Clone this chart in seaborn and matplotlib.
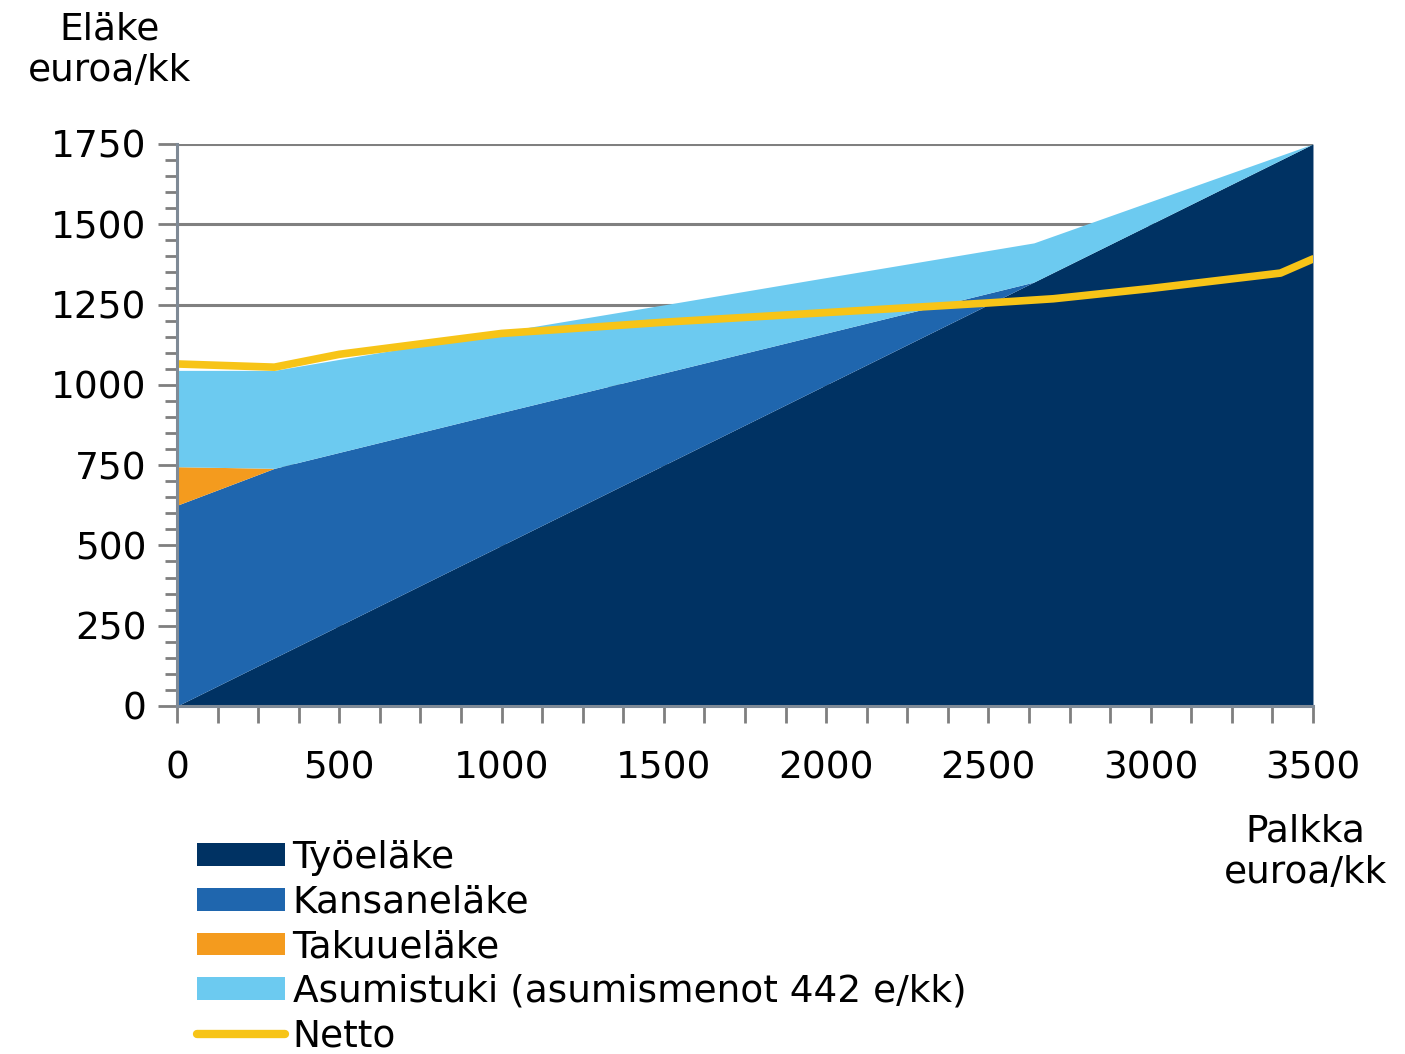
import numpy as np
import pandas as pd
import matplotlib
matplotlib.use("Agg")
import matplotlib.pyplot as plt
from matplotlib.patches import Patch
from matplotlib.lines import Line2D
from matplotlib.ticker import MultipleLocator
import seaborn as sns

# ---- data (euroa/kk) ----
palkka = [0, 300, 1000, 1500, 2000, 2640, 3500]
tyoelake = [0, 150, 500, 750, 1000, 1320, 1750]
kansanelake = [625, 590, 414, 287, 161, 0, 0]
takuuelake = [120, 0, 0, 0, 0, 0, 0]
asumistuki = [300, 305, 251, 212, 173, 122, 0]

netto_palkka = [0, 300, 500, 1000, 1500, 2000, 2500, 2700, 3000, 3400, 3500]
netto = [1065, 1055, 1095, 1160, 1195, 1225, 1255, 1268, 1300, 1348, 1392]

labels = ["Työeläke", "Kansaneläke", "Takuueläke",
          "Asumistuki (asumismenot 442 e/kk)", "Netto"]
colors = ["#003263", "#1f66ae", "#f49b1e", "#6ccaf0"]
netto_color = "#f7c417"

sns.set_style("white")
plt.rcParams["font.family"] = ["DejaVu Sans"]
plt.rcParams["text.color"] = "black"

FS = 27

fig = plt.figure(figsize=(14.05, 10.54), dpi=100)
ax = fig.add_axes([0.126, 0.3302, 0.8085, 0.5332])

ax.stackplot(palkka, tyoelake, kansanelake, takuuelake, asumistuki,
             colors=colors, linewidth=0, zorder=2)

df = pd.DataFrame({"palkka": netto_palkka, "netto": netto})
sns.lineplot(data=df, x="palkka", y="netto", ax=ax, color=netto_color,
             linewidth=5.5, zorder=4, legend=False)

ax.set_xlim(0, 3500)
ax.set_ylim(0, 1750)
ax.yaxis.set_major_locator(MultipleLocator(250))
ax.yaxis.set_minor_locator(MultipleLocator(50))
ax.xaxis.set_major_locator(MultipleLocator(500))
ax.xaxis.set_minor_locator(MultipleLocator(125))

ax.grid(True, axis="y", which="major", color="#808080", linewidth=2.2, zorder=1)
ax.set_axisbelow(True)
for s in ["top", "right"]:
    ax.spines[s].set_visible(False)
for s in ["left", "bottom"]:
    ax.spines[s].set_color("#7f8a96")
    ax.spines[s].set_linewidth(2.2)
    ax.spines[s].set_zorder(5)

ax.tick_params(axis="both", which="both", direction="out", colors="#7f7f7f",
               width=2, labelcolor="black", labelsize=FS)
ax.tick_params(axis="y", which="major", length=14, pad=8)
ax.tick_params(axis="y", which="minor", length=9)
ax.tick_params(axis="x", which="both", length=12, pad=20)
ax.tick_params(axis="y", left=True, which="both")
ax.tick_params(axis="x", bottom=True, which="both")
ax.set_xlabel("")
ax.set_ylabel("")

fig.text(110 / 1405, 1 - 50 / 1054, "Eläke\neuroa/kk", ha="center", va="center",
         fontsize=FS, linespacing=1.2, color="black")
fig.text(1305 / 1405, 1 - 852 / 1054, "Palkka\neuroa/kk", ha="center", va="center",
         fontsize=FS, linespacing=1.2, color="black")

handles = [Patch(facecolor=c, edgecolor="none") for c in colors]
handles.append(Line2D([0], [0], color=netto_color, linewidth=6))
leg = fig.legend(handles, labels, loc="upper left",
                 bbox_to_anchor=(197 / 1405, 1 - 840 / 1054), frameon=False,
                 fontsize=FS, handlelength=2.35, handleheight=0.55,
                 handletextpad=0.2, labelspacing=0.23, borderpad=0, borderaxespad=0)
for t in leg.get_texts():
    t.set_color("black")

fig.savefig("out.png", dpi=100, facecolor="white")
